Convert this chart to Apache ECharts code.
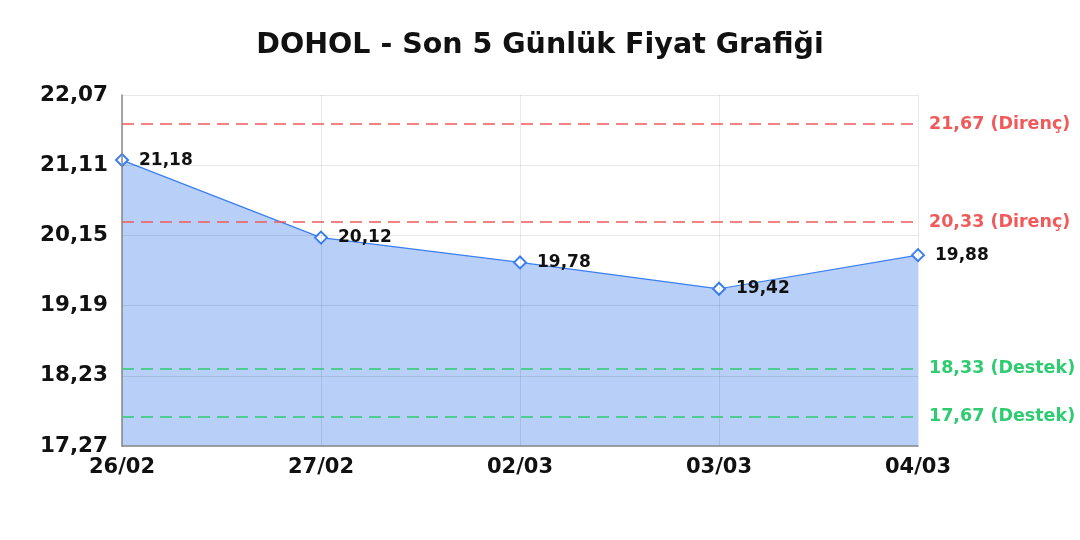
<!DOCTYPE html>
<html><head><meta charset="utf-8">
<script src="https://cdn.jsdelivr.net/npm/echarts@6/dist/echarts.min.js"></script>
<style>html,body{margin:0;padding:0;background:#fff}#c{width:1080px;height:540px}</style>
</head><body><div id="c"></div>
<script>
var categories = ['26/02','27/02','02/03','03/03','04/03'];
var prices = [21.18, 20.12, 19.78, 19.42, 19.88];
var yTicks = [17.27, 18.23, 19.19, 20.15, 21.11, 22.07];
var resistance = [21.67, 20.33];
var support = [18.33, 17.67];
var fmt = function(v){ return Number(v).toFixed(2).replace('.', ','); };
var font = '"DejaVu Sans", Verdana, sans-serif';
var markData = [];
resistance.forEach(function(v){
  markData.push({yAxis: v, lineStyle:{color:'#f05a5a'}, label:{color:'#f05a5a', formatter: fmt(v) + ' (Direnç)'}});
});
support.forEach(function(v){
  markData.push({yAxis: v, lineStyle:{color:'#2ecc71'}, label:{color:'#2ecc71', formatter: fmt(v) + ' (Destek)'}});
});
var chart = echarts.init(document.getElementById('c'));
chart.setOption({
  animation:false,
  textStyle:{fontFamily:font},
  title:{text:'DOHOL - Son 5 Günlük Fiyat Grafiği', left:'center', top:26,
    textStyle:{fontFamily:font, fontSize:28.5, fontWeight:'bold', color:'#111'}},
  grid:{left:122, right:162, top:95, bottom:94},
  xAxis:{type:'category', data:categories, boundaryGap:false, z:3,
    axisLine:{lineStyle:{color:'#888', width:1.5}},
    axisTick:{show:false},
    axisLabel:{fontFamily:font, fontSize:21, fontWeight:'bold', color:'#111', margin:11},
    splitLine:{show:true, lineStyle:{color:'rgba(0,0,0,0.09)'}}},
  yAxis:{type:'value', min:yTicks[0], max:yTicks[yTicks.length-1], z:3,
    axisLine:{show:true, lineStyle:{color:'#888', width:1.5}},
    axisTick:{show:false, customValues:yTicks},
    axisLabel:{customValues:yTicks, formatter:fmt, fontFamily:font, fontSize:21.5, fontWeight:'bold', color:'#111', margin:14},
    splitLine:{show:true, lineStyle:{color:'rgba(0,0,0,0.09)'}}},
  series:[{
    type:'line', data:prices, z:2,
    symbol:'emptyDiamond', symbolSize:12,
    itemStyle:{color:'#3b7ff0', borderWidth:2.4},
    lineStyle:{color:'#3b7ff0', width:1.2},
    areaStyle:{color:'#b8cff8', opacity:1},
    label:{show:true, position:'right', distance:10, formatter:function(p){return fmt(p.value);},
      fontFamily:font, fontSize:17, fontWeight:'bold', color:'#111'},
    markLine:{symbol:'none', silent:true, z:4,
      lineStyle:{type:[12,7], width:1.5},
      label:{position:'end', distance:11, fontFamily:font, fontSize:17.5, fontWeight:'bold'},
      data:markData}
  }]
});
</script></body></html>
